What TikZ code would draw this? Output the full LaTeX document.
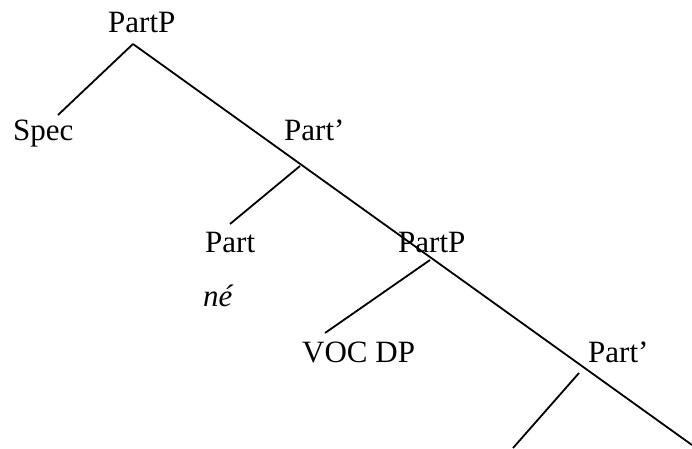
\documentclass[tikz,border=0pt]{standalone}
\usepackage{fontspec}
\setmainfont{Liberation Serif}
\begin{document}
\begin{tikzpicture}[x=1pt,y=-1pt,
  lab/.style={anchor=base west,inner sep=0pt,font=\fontsize{31}{37}\selectfont},
  branch/.style={line width=1.8pt}]
\useasboundingbox (0,0) rectangle (692,448);
% labels
\node[lab] (partp) at (108,32) {PartP};
\node[lab] (spec) at (13,140) {Spec};
\node[lab] (partbar) at (284,140) {Part’};
\node[lab] (part) at (205,252) {Part};
\node[lab] (ne) at (203,306) {\itshape né};
\node[lab] (partp2) at (398,252) {PartP};
\node[lab] (voc) at (302,362) {VOC DP};
\node[lab] (partbar2) at (588,362) {Part’};
% branch points
\coordinate (top) at (133,44);
\coordinate (specend) at (58,115);
\coordinate (b1) at (300,166);
\coordinate (b1end) at (230,224);
\coordinate (b2) at (430,260);
\coordinate (b2end) at (325,333);
\coordinate (b3) at (579,373);
\coordinate (b3end) at (513,448);
\coordinate (mainend) at (692,445);
% connectors
\draw[branch] (top) -- (specend);
\draw[branch] (top) -- (mainend);
\draw[branch] (b1) -- (b1end);
\draw[branch] (b2) -- (b2end);
\draw[branch] (b3) -- (b3end);
\end{tikzpicture}
\end{document}
